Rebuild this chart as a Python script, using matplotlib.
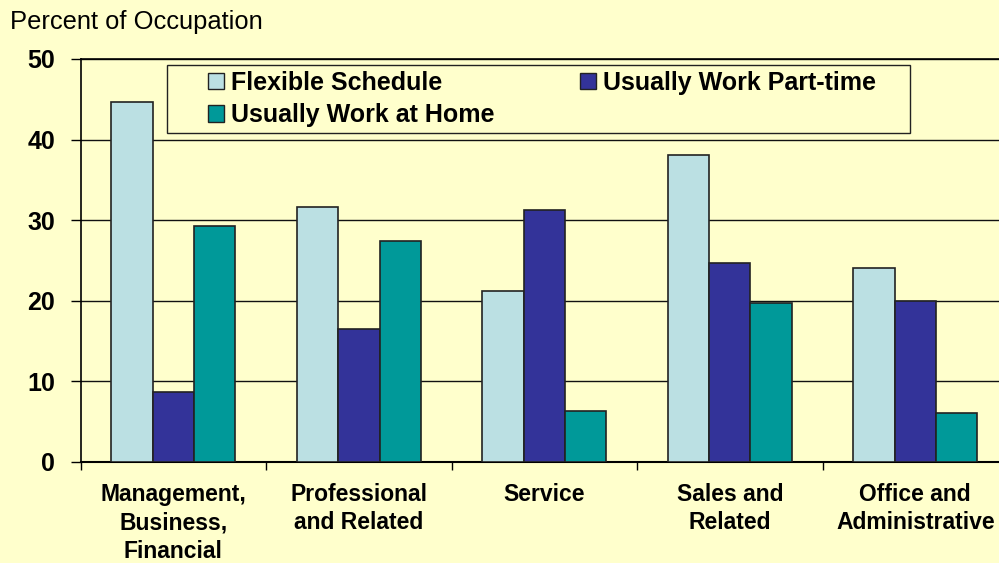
import numpy as np
import matplotlib.pyplot as plt
from matplotlib.patches import Patch, Rectangle

plt.rcParams['font.family'] = ['Liberation Sans', 'DejaVu Sans']

# Share of workers in each occupation group (percent)
categories = ['Management,\nBusiness,\nFinancial', 'Professional\nand Related',
              'Service', 'Sales and\nRelated', 'Office and\nAdministrative']
flexible_schedule = [44.7, 31.6, 21.2, 38.1, 24.0]
part_time         = [8.6, 16.5, 31.3, 24.7, 20.0]
work_at_home      = [29.3, 27.4, 6.3, 19.7, 6.0]

series_labels = ['Flexible Schedule', 'Usually Work Part-time', 'Usually Work at Home']
series_colors = ['#BBE0E3', '#333399', '#009999']
y_ticks = [0, 10, 20, 30, 40, 50]

bg = '#FFFFCC'

fig = plt.figure(figsize=(9.99, 5.63), dpi=100, facecolor=bg)
W, H = 999, 563
x0, x1 = 80.7, 1008.0
y_top, y_bot = 59.0, 461.7
ax = fig.add_axes([x0 / W, (H - y_bot) / H, (x1 - x0) / W, (y_bot - y_top) / H])
ax.set_facecolor(bg)

x = np.arange(len(categories))
bw = 0.223
all_series = [flexible_schedule, part_time, work_at_home]
for i, (vals, color) in enumerate(zip(all_series, series_colors)):
    ax.bar(x + (i - 1) * bw, vals, width=bw, color=color,
           edgecolor='#222222', linewidth=1.2, zorder=3)

ax.set_xlim(-0.5, len(categories) - 0.5)
ax.set_ylim(0, 50)

# Horizontal grid lines
ax.set_yticks(y_ticks)
ax.yaxis.grid(True, color='#111111', linewidth=1.0, zorder=1)
ax.set_axisbelow(True)

ax.tick_params(axis='y', direction='out', length=7, width=1, pad=11.5,
               labelsize=18)
for lbl in ax.get_yticklabels():
    lbl.set_fontweight('bold')

# Category labels centered, tick marks on the group boundaries
ax.set_xticks(x)
ax.set_xticklabels(categories, fontsize=16.5, fontweight='bold', linespacing=1.29,
                   va='top')
ax.tick_params(axis='x', which='major', length=0, pad=15.5)
ax.set_xticks(np.arange(len(categories) + 1) - 0.5, minor=True)
ax.tick_params(axis='x', which='minor', direction='out', length=6, width=1)

ax.spines['right'].set_visible(False)
ax.spines['top'].set_linewidth(1.2)
ax.spines['left'].set_linewidth(1.2)
ax.spines['bottom'].set_linewidth(1.5)

fig.text(10 / W, 1 - 29 / H, 'Percent of Occupation', fontsize=18.4,
         va='baseline', ha='left')

# Legend box drawn separately so the inner padding can be wider than tall
fig.patches.append(Rectangle((167 / W, 1 - 133 / H), (910 - 167) / W, 68 / H,
                             transform=fig.transFigure, facecolor=bg,
                             edgecolor='#222222', linewidth=1.0, zorder=2))

handles = [Patch(facecolor=c, edgecolor='#222222', linewidth=1.0) for c in series_colors]
order = [0, 2, 1]
leg = fig.legend([handles[k] for k in order], [series_labels[k] for k in order],
                 ncol=2, loc='upper left',
                 bbox_to_anchor=(208 / W, 1 - 71 / H),
                 frameon=False,
                 prop={'size': 18, 'weight': 'bold'},
                 handlelength=0.64, handleheight=0.64, handletextpad=0.27,
                 columnspacing=3.43, borderpad=0, labelspacing=0.33,
                 borderaxespad=0)
leg.set_zorder(3)

fig.savefig('out.png', dpi=100, facecolor=bg)
